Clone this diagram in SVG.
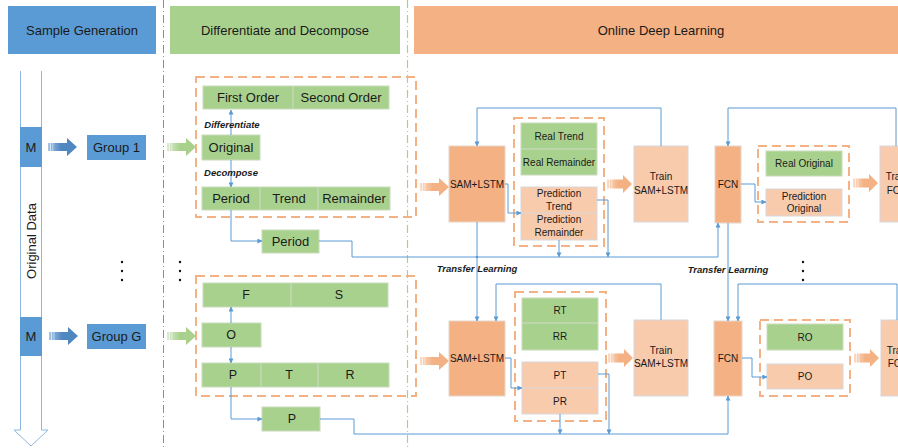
<svg xmlns="http://www.w3.org/2000/svg" width="898" height="448" viewBox="0 0 898 448">
  <defs>
    <style>
      text { font-family: "Liberation Sans", Arial, sans-serif; fill: #1a1a1a; dominant-baseline: central; text-anchor: middle; }
      .hdr { font-size: 13px; }
      .big { font-size: 13px; }
      .mid { font-size: 12.5px; }
      .sm { font-size: 10px; }
      .xs { font-size: 10px; }
      .lbl { font-size: 9.5px; font-weight: bold; font-style: italic; }
      .blue { fill: #5B9BD5; }
      .green { fill: #A9D18E; stroke: #C9DBBB; stroke-width: 1; }
      .dark { fill: #F4B183; stroke: #E6D6CC; stroke-width: 1; }
      .light { fill: #F8CBAD; stroke: #D8D8DC; stroke-width: 1; }
      .div { stroke: #CFDCC5; stroke-width: 1; }
      .divo { stroke: #D8D8DC; stroke-width: 1; }
      .group { fill: none; stroke: #F4B183; stroke-width: 2; stroke-dasharray: 9 5; }
      .wire { fill: none; stroke: #5B9BD5; stroke-width: 1; }
      .wire.arr { marker-end: url(#head); }
      .dot { fill: #111; }
    </style>
    <marker id="head" viewBox="0 0 6 6" refX="5.5" refY="3" markerWidth="5" markerHeight="5" orient="auto" markerUnits="userSpaceOnUse">
      <path d="M0,0 L6,3 L0,6 Z" fill="#5B9BD5"/>
    </marker>
    <linearGradient id="gBlue" x1="0" x2="1" y1="0" y2="0">
      <stop offset="0" stop-color="#A7C6E6"/>
      <stop offset="0.45" stop-color="#4F87C0"/>
      <stop offset="1" stop-color="#4F87C0"/>
    </linearGradient>
    <linearGradient id="gGreen" x1="0" x2="1" y1="0" y2="0">
      <stop offset="0" stop-color="#DCEBD1"/>
      <stop offset="0.45" stop-color="#A9D18E"/>
      <stop offset="1" stop-color="#A9D18E"/>
    </linearGradient>
    <linearGradient id="gOrange" x1="0" x2="1" y1="0" y2="0">
      <stop offset="0" stop-color="#FADCC8"/>
      <stop offset="0.45" stop-color="#F4B183"/>
      <stop offset="1" stop-color="#F4B183"/>
    </linearGradient>
    <!-- block arrow, origin at tail centre, 29 long -->
    <g id="blockArrow">
      <polygon points="0,-4 19,-4 19,-9 29,0 19,9 19,4 0,4"/>
      <rect x="2" y="-4.5" width="0.8" height="9" fill="#fff" opacity="0.8"/>
      <rect x="4.5" y="-4.5" width="0.8" height="9" fill="#fff" opacity="0.6"/>
    </g>
    <g id="blockArrowS">
      <polygon points="0,-4.5 16,-4.5 16,-9 25,0 16,9 16,4.5 0,4.5"/>
      <rect x="2" y="-5" width="0.8" height="10" fill="#fff" opacity="0.8"/>
      <rect x="4.5" y="-5" width="0.8" height="10" fill="#fff" opacity="0.6"/>
    </g>
  </defs>

  <rect width="898" height="448" fill="#fff"/>

  <!-- stage headers -->
  <g id="header-sample">
    <rect x="8" y="6" width="148" height="48" class="blue"/>
    <text x="82" y="30" class="hdr">Sample Generation</text>
  </g>
  <g id="header-decompose">
    <rect x="170" y="6" width="230" height="48" fill="#A9D18E"/>
    <text x="285" y="30" class="hdr">Differentiate and Decompose</text>
  </g>
  <g id="header-online">
    <rect x="414" y="6" width="490" height="48" fill="#F4B183"/>
    <text x="661" y="30" class="hdr">Online Deep Learning</text>
  </g>

  <!-- stage separators -->
  <line x1="163.5" y1="0" x2="163.5" y2="448" stroke="#5B9BD5" stroke-width="1" stroke-dasharray="8 3 1 3"/>
  <line x1="407.5" y1="0" x2="407.5" y2="448" stroke="#A9D18E" stroke-width="1.2" stroke-dasharray="8 3 1 3"/>

  <!-- original data stream -->
  <g id="original-data">
    <path d="M20.5,71 V430 H14 L31,446 L48,430 H41.5 V71" fill="none" stroke="#8DB7E0" stroke-width="1"/>
    <text transform="translate(31,241) rotate(-90)" class="big">Original Data</text>
  </g>
  <g id="m1">
    <rect x="20" y="127" width="22" height="40" class="blue"/>
    <text x="31" y="147" class="big">M</text>
  </g>
  <g id="m2">
    <rect x="20" y="317" width="22" height="39" class="blue"/>
    <text x="31" y="336" class="big">M</text>
  </g>

  <!-- thick flow arrows -->
  <g id="flow-arrows">
    <use href="#blockArrow" x="48" y="147" fill="url(#gBlue)"/>
    <use href="#blockArrow" x="49" y="336" fill="url(#gBlue)"/>
    <use href="#blockArrow" x="167" y="147" fill="url(#gGreen)"/>
    <use href="#blockArrow" x="167" y="336" fill="url(#gGreen)"/>
    <use href="#blockArrow" x="420" y="187" fill="url(#gOrange)"/>
    <use href="#blockArrow" x="420" y="361" fill="url(#gOrange)"/>
    <use href="#blockArrowS" x="607" y="184" fill="url(#gOrange)"/>
    <use href="#blockArrowS" x="608" y="358" fill="url(#gOrange)"/>
    <use href="#blockArrowS" x="853" y="183" fill="url(#gOrange)"/>
    <use href="#blockArrowS" x="854" y="358" fill="url(#gOrange)"/>
  </g>

  <!-- groups -->
  <g id="group-1">
    <rect x="87" y="135" width="59" height="25" class="blue"/>
    <text x="116.5" y="147.5" class="big">Group 1</text>
  </g>
  <g id="group-g">
    <rect x="87" y="324" width="59" height="25" class="blue"/>
    <text x="116.5" y="336.5" class="big">Group G</text>
  </g>

  <!-- ellipsis dots -->
  <g id="ellipsis">
    <circle cx="122" cy="262" r="1.2" class="dot"/>
    <circle cx="122" cy="271" r="1.2" class="dot"/>
    <circle cx="122" cy="280" r="1.2" class="dot"/>
    <circle cx="180" cy="262" r="1.2" class="dot"/>
    <circle cx="180" cy="271" r="1.2" class="dot"/>
    <circle cx="180" cy="280" r="1.2" class="dot"/>
    <circle cx="803" cy="262" r="1.2" class="dot"/>
    <circle cx="803" cy="271" r="1.2" class="dot"/>
    <circle cx="803" cy="280" r="1.2" class="dot"/>
  </g>

  <!-- decomposition, group 1 -->
  <rect x="196" y="77" width="220" height="140" class="group"/>
  <g id="orders-1">
    <rect x="203" y="86" width="186" height="23" class="green"/>
    <line x1="293" y1="86" x2="293" y2="109" class="div"/>
    <text x="248" y="97.5" class="big">First Order</text>
    <text x="341" y="97.5" class="big">Second Order</text>
  </g>
  <g id="original-1">
    <rect x="202" y="135" width="58" height="25" class="green"/>
    <text x="231" y="147.5" class="big">Original</text>
  </g>
  <g id="components-1">
    <rect x="202" y="187" width="188" height="23" class="green"/>
    <line x1="260" y1="187" x2="260" y2="210" class="div"/>
    <line x1="318" y1="187" x2="318" y2="210" class="div"/>
    <text x="231" y="198.5" class="big">Period</text>
    <text x="289" y="198.5" class="big">Trend</text>
    <text x="354" y="198.5" class="big">Remainder</text>
  </g>
  <g id="period-1">
    <rect x="262" y="230" width="57" height="23" class="green"/>
    <text x="290.5" y="241.5" class="big">Period</text>
  </g>

  <!-- decomposition, group G -->
  <rect x="196" y="276" width="220" height="120" class="group"/>
  <g id="orders-g">
    <rect x="203" y="283" width="185" height="24" class="green"/>
    <line x1="291" y1="283" x2="291" y2="307" class="div"/>
    <text x="246" y="295" class="mid">F</text>
    <text x="339" y="295" class="mid">S</text>
  </g>
  <g id="original-g">
    <rect x="202" y="323" width="59" height="24" class="green"/>
    <text x="231" y="335" class="mid">O</text>
  </g>
  <g id="components-g">
    <rect x="202" y="363" width="187" height="24" class="green"/>
    <line x1="261" y1="363" x2="261" y2="387" class="div"/>
    <line x1="318" y1="363" x2="318" y2="387" class="div"/>
    <text x="233" y="375" class="mid">P</text>
    <text x="289" y="375" class="mid">T</text>
    <text x="350" y="375" class="mid">R</text>
  </g>
  <g id="period-g">
    <rect x="262" y="407" width="58" height="24" class="green"/>
    <text x="292" y="419" class="mid">P</text>
  </g>

  <!-- online learning, group 1 -->
  <g id="sam-1">
    <rect x="449" y="146" width="56" height="76" class="dark"/>
    <text x="477" y="184" class="xs">SAM+LSTM</text>
  </g>
  <rect x="514" y="118" width="90" height="128" class="group"/>
  <g id="real-1">
    <rect x="521" y="123" width="76" height="52" class="green"/>
    <line x1="521" y1="149" x2="597" y2="149" class="div"/>
    <text x="559" y="136" class="sm">Real Trend</text>
    <text x="559" y="162" class="sm">Real Remainder</text>
  </g>
  <g id="pred-1">
    <rect x="521" y="187" width="76" height="53" class="light"/>
    <line x1="521" y1="213" x2="597" y2="213" class="divo"/>
    <text x="559" y="193.5" class="sm">Prediction</text>
    <text x="559" y="206.5" class="sm">Trend</text>
    <text x="559" y="219.5" class="sm">Prediction</text>
    <text x="559" y="232.5" class="sm">Remainder</text>
  </g>
  <g id="train-sam-1">
    <rect x="634" y="146" width="54" height="76" class="light"/>
    <text x="661" y="176" class="sm">Train</text>
    <text x="661" y="190" class="sm">SAM+LSTM</text>
  </g>
  <g id="fcn-1">
    <rect x="715" y="146" width="26" height="77" class="dark"/>
    <text x="728" y="184" class="xs">FCN</text>
  </g>
  <rect x="758" y="146" width="91" height="76" class="group"/>
  <g id="real-orig-1">
    <rect x="766" y="151" width="76" height="25" class="green"/>
    <text x="804" y="163.5" class="sm">Real Original</text>
  </g>
  <g id="pred-orig-1">
    <rect x="766" y="189" width="76" height="27" class="light"/>
    <text x="804" y="196" class="sm">Prediction</text>
    <text x="804" y="208.5" class="sm">Original</text>
  </g>
  <g id="train-fcn-1">
    <rect x="880" y="146" width="34" height="76" class="light"/>
    <text x="897" y="176" class="sm">Train</text>
    <text x="897" y="190" class="sm">FCN</text>
  </g>

  <!-- online learning, group G -->
  <g id="sam-g">
    <rect x="449" y="321" width="56" height="75" class="dark"/>
    <text x="477" y="358" class="xs">SAM+LSTM</text>
  </g>
  <rect x="515" y="292" width="91" height="129" class="group"/>
  <g id="real-g">
    <rect x="522" y="298" width="76" height="52" class="green"/>
    <line x1="522" y1="323" x2="598" y2="323" class="div"/>
    <text x="560" y="310.5" class="sm">RT</text>
    <text x="560" y="336.5" class="sm">RR</text>
  </g>
  <g id="pred-g">
    <rect x="522" y="362" width="76" height="52" class="light"/>
    <line x1="522" y1="388" x2="598" y2="388" class="divo"/>
    <text x="560" y="375" class="sm">PT</text>
    <text x="560" y="401" class="sm">PR</text>
  </g>
  <g id="train-sam-g">
    <rect x="634" y="320" width="54" height="76" class="light"/>
    <text x="661" y="350" class="sm">Train</text>
    <text x="661" y="363.5" class="sm">SAM+LSTM</text>
  </g>
  <g id="fcn-g">
    <rect x="714" y="321" width="28" height="75" class="dark"/>
    <text x="728" y="358" class="xs">FCN</text>
  </g>
  <rect x="760" y="320" width="90" height="76" class="group"/>
  <g id="real-orig-g">
    <rect x="767" y="324" width="76" height="26" class="green"/>
    <text x="805" y="337" class="sm">RO</text>
  </g>
  <g id="pred-orig-g">
    <rect x="767" y="364" width="76" height="25" class="light"/>
    <text x="805" y="376.5" class="sm">PO</text>
  </g>
  <g id="train-fcn-g">
    <rect x="881" y="320" width="34" height="76" class="light"/>
    <text x="898" y="350" class="sm">Train</text>
    <text x="898" y="363.5" class="sm">FCN</text>
  </g>

  <!-- connectors -->
  <g id="connectors">
    <path d="M231,135 V110" class="wire arr"/>
    <path d="M231,160 V187" class="wire arr"/>
    <path d="M231,210 V241 H262" class="wire arr"/>
    <path d="M319,241 H352 V257 H718 V223" class="wire arr"/>
    <path d="M505,184 H508 V213 H521" class="wire arr"/>
    <path d="M597,200 H608 V257" class="wire arr"/>
    <path d="M559,240 V257" class="wire arr"/>
    <path d="M661,146 V108 H477 V146" class="wire arr"/>
    <path d="M477,222 V321" class="wire arr"/>
    <circle cx="477" cy="257" r="1.3" fill="#5B9BD5"/>
    <path d="M741,184 H755 V202 H766" class="wire arr"/>
    <path d="M896,146 V108 H728 V146" class="wire arr"/>
    <path d="M728,223 V321" class="wire arr"/>

    <path d="M231,323 V307" class="wire arr"/>
    <path d="M231,347 V363" class="wire arr"/>
    <path d="M231,387 V419 H262" class="wire arr"/>
    <path d="M320,419 H354 V434 H728 V396" class="wire arr"/>
    <path d="M505,358 H511 V388 H522" class="wire arr"/>
    <path d="M598,374 H609 V434" class="wire arr"/>
    <path d="M560,414 V434" class="wire arr"/>
    <path d="M661,320 V284 H496 V321" class="wire arr"/>
    <path d="M742,358 H752 V377 H767" class="wire arr"/>
    <path d="M897,320 V284 H738 V321" class="wire arr"/>
  </g>

  <!-- connector labels -->
  <g id="connector-labels">
    <text x="232" y="124" class="lbl">Differentiate</text>
    <text x="231" y="172" class="lbl">Decompose</text>
    <text x="477" y="268" class="lbl">Transfer Learning</text>
    <text x="728" y="269" class="lbl">Transfer Learning</text>
  </g>
</svg>
